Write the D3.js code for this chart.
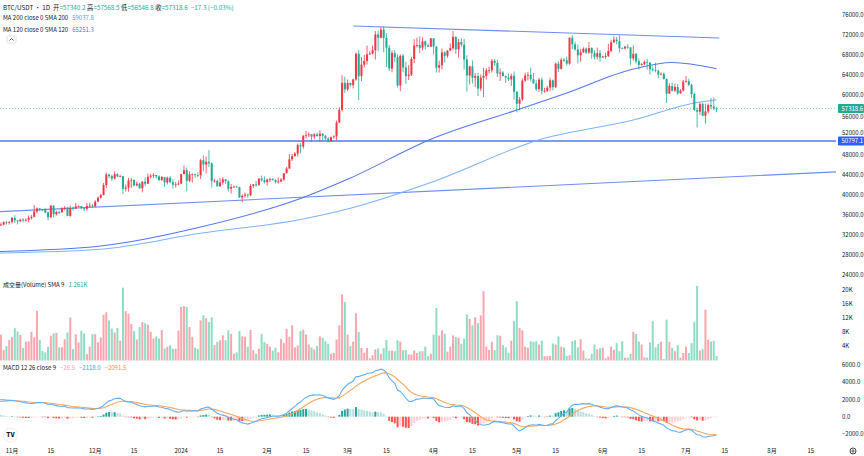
<!DOCTYPE html>
<html><head><meta charset="utf-8">
<script src="https://cdn.jsdelivr.net/npm/d3@7"></script>
<style>
body{margin:0;background:#fff;}
svg{display:block;font-family:"Noto Sans CJK SC","Noto Sans",Roboto,sans-serif;}
</style></head><body>
<svg id="c" width="864" height="456"></svg>
<script>
// ---------------- DATA ----------------
const startDate = "2023-10-27";
const firstOpen = 34150;
const closes = [
33900,34090,34540,34480,34640,
35420,34940,34730,35080,35040,35040,35420,35630,36700,37320,37140,37070,36490,35550,37880,36160,36600,36580,37390,37470,35830,37430,37290,37720,37800,37450,37250,37830,37860,37710,
38690,39470,39970,41990,44080,43770,43290,44170,43720,43790,41240,41490,42870,43020,41930,42270,41360,42660,42260,43650,43860,43990,43720,43010,43580,42510,43440,42580,42070,42140,42280,
44180,44950,42840,44150,44160,43970,43930,46950,46110,46630,46340,42780,42840,41730,42510,43140,42750,41260,41610,41680,41570,39510,39850,40080,39930,41810,42120,42030,43300,42940,42580,
43080,43190,42990,42580,42700,43090,44340,45290,47150,47770,48290,49960,49700,51840,51950,52140,51660,52130,51780,52260,51840,51300,50730,51570,51730,54480,57040,62430,61130,
62390,61990,63110,68250,63770,66070,66820,68120,68300,68960,72100,71450,73070,71390,69440,65300,68390,67550,61910,67850,65490,63780,64060,67210,69880,69990,69450,70740,69890,69650,71330,
69700,65460,65960,68510,67840,68900,69360,71620,69140,70590,70060,67100,63900,65730,63430,63800,61280,63470,63810,64940,64940,66840,66410,64280,64500,63770,63460,63120,63840,60640,
58250,59120,62890,63890,64030,63160,62310,61190,63070,60790,60820,61480,62940,61580,66270,65230,67050,66940,66280,71450,70140,69120,67930,68530,69270,68500,69390,68360,67640,68350,67490,
67710,67760,68800,70560,71080,70790,69350,69300,69650,69510,67320,68240,66750,66010,66190,66640,66490,65150,64960,64830,64100,64250,63180,60280,61800,60860,61610,60320,60890,62680,
62770,62020,60200,56990,56660,58230,55850,56700,57990,57700,57340.2,57318.6];
const highs = [
34250,34480,34750,34850,34720,
35600,35980,34950,35270,35380,35290,35890,35980,37970,37520,37400,37230,37440,36760,37980,37920,36860,36850,37550,37770,37650,37880,37660,38420,37890,37840,37580,38390,38430,38170,
38960,39690,40200,42400,44490,44300,44050,44700,44360,44040,43790,42100,43430,43420,43090,42700,42430,42750,43480,44280,44230,44390,43990,43940,43800,43600,43680,43800,43130,42600,42890,
44180,45880,45500,44730,44300,44250,44490,47250,47900,47700,48970,46500,43250,43080,43400,43580,43200,42930,42200,41870,41880,41680,40130,40500,40280,42200,42200,42840,43310,43880,43740,
43290,43480,43380,43120,43490,43400,44380,45600,48200,48200,48580,50300,50370,52000,52820,52580,52200,52380,52480,52950,52370,52000,51550,51700,51950,54900,57580,64000,63680,
63110,62480,63230,68500,69000,67600,67990,69900,68800,69880,72800,72900,73650,73780,72370,70000,68900,68950,68100,68100,68200,66650,65950,67600,71150,71500,71750,71550,70900,70300,71370,
71350,69700,66900,69290,68720,69000,70300,72800,71750,71200,71300,71250,67950,65850,66900,64370,64450,64100,65450,65380,65700,67200,67200,67070,65300,64800,63900,64300,64250,64700,
60780,59600,63300,64500,64600,65500,64400,62980,63400,63460,61450,61800,63450,63100,66450,66700,67450,67400,67700,71500,71950,70650,70100,69200,69550,69500,70600,69550,68900,69500,69000,
67850,68450,70250,71060,71750,71650,71950,69550,69850,70150,69550,69950,68400,67300,66400,66950,67250,66500,65730,66470,65050,64530,64520,63370,62350,62480,62300,62200,61200,63000,
63800,63280,62250,60500,57500,58480,58500,58240,58300,59450,59500,57568.5];
const lows = [
33400,33870,33930,34080,34080,
34300,34400,34100,34580,34530,34740,34520,35120,35530,36340,36750,36750,36340,34950,35360,35520,35880,36200,36400,36920,35750,35650,36890,37250,37610,37150,36750,36880,37590,37560,
37620,38650,39270,39960,41420,43360,42820,43080,43580,43580,40220,40680,40670,41430,41660,41730,41250,40520,41800,42190,43300,43400,43300,42750,42730,41620,42100,42320,41300,41520,41970,
42180,44150,40750,42620,42500,43420,43570,43180,44760,44300,45600,41500,42440,41720,41720,42050,42200,40680,40280,41450,41500,39440,38550,39480,39490,39820,41390,41630,41800,42680,42300,
41880,42580,42880,42270,42260,42580,42790,44330,45250,46800,47720,47700,48300,49260,51310,51600,50630,51160,51710,50650,50800,50900,50500,50580,51280,50900,54450,56700,60360,
60770,61650,61320,62850,59000,62800,65530,66100,68000,68100,67100,68800,71330,68550,65600,64750,64540,66550,61500,60770,64530,62260,63000,63800,66400,69500,68380,68900,69080,69560,69580,
68060,64500,64500,65060,66500,67450,68800,69040,68200,67500,69560,65100,60660,62100,62300,61600,59770,60800,59600,63100,64300,64500,65850,63600,62800,63780,62400,62800,61800,59100,
56550,56940,58800,62600,62900,62700,62250,60800,60600,60150,60480,60600,60760,60900,61350,64600,65100,66600,65850,66060,69160,68850,66300,66620,68450,68200,68250,67250,67100,67150,66650,
67390,67260,67600,68540,70380,70150,68500,69200,69130,69230,66050,66900,66300,65080,65880,66000,65100,64060,64690,64530,63400,63940,63100,58400,60240,60700,60600,60000,60270,60680,
62500,61780,59450,56770,53500,56020,55800,54260,56270,57140,56970,56546.8];
// volume in thousands
const volumesK = [
5.6,7.3,2.9,4.1,5.8,
6.5,9.1,8.2,7.2,3.5,5.3,5.4,8.1,6.5,14.0,5.8,2.7,2.3,3.9,7.0,7.6,7.8,3.7,3.7,6.0,7.9,12.1,3.2,7.4,5.1,8.4,7.6,1.8,3.9,7.4,
7.4,5.1,6.5,12.9,13.6,11.3,9.0,7.9,9.2,5.6,20.5,13.9,13.2,10.3,8.3,5.9,9.4,10.8,10.5,10.1,8.1,6.2,6.7,6.2,8.6,3.4,3.9,4.3,3.3,3.3,8.4,
15.1,15.3,15.1,9.4,6.7,3.6,3.3,11.3,12.7,11.9,10.8,12.2,4.3,5.2,5.7,7.1,5.7,8.5,7.5,1.9,2.3,8.3,6.8,6.7,3.9,8.6,2.9,1.9,3.3,
7.5,5.2,4.7,3.9,2.8,3.6,2.3,6.1,4.9,8.9,6.7,9.9,3.7,4.2,8.3,8.7,7.3,4.5,3.7,3.1,4.1,6.8,6.4,5.4,4.7,1.9,2.1,5.9,9.9,18.6,16.5,
7.3,4.1,5.3,13.3,8.0,3.5,2.2,3.5,0.6,1.5,3.1,3.4,1.9,3.5,5.8,2.8,2.8,2.6,5.7,5.3,2.9,2.9,1.7,1.7,2.8,2.1,2.6,2.6,3.9,1.2,1.9,
7.3,14.8,7.0,8.5,7.5,2.5,3.9,7.1,6.6,6.4,4.7,6.2,13.0,11.7,9.9,12.2,10.5,12.7,19.5,3.9,3.0,5.3,2.9,7.1,7.0,4.3,3.7,2.2,5.6,11.1,
16.7,9.2,8.5,3.9,3.6,5.4,5.3,5.4,4.5,5.6,1.2,1.2,1.3,4.8,4.5,6.8,3.9,3.7,1.3,1.5,5.4,5.7,3.7,6.0,2.8,0.6,0.5,1.9,4.5,3.2,3.4,
3.6,0.6,1.1,3.9,3.0,4.9,2.6,5.4,0.8,0.8,1.9,8.1,7.5,5.3,4.5,0.9,0.8,5.1,11.1,3.7,4.7,5.3,0.4,11.5,5.3,3.6,2.6,4.3,0.8,2.1,
3.9,2.1,4.9,10.9,21.0,2.8,3.2,14.3,5.9,5.3,5.6,1.261];

// moving-average lines (date, value)
const ma120Pts = [["2023-10-27",28700],["2023-12-03",29800],["2024-01-08",33600],["2024-02-13",39300],["2024-03-02",43400],["2024-03-31",51150],["2024-05-01",57000],["2024-05-19",60400],["2024-06-12",65200],["2024-06-26",66500],["2024-07-12",65251.3]];
const ma200Pts = [["2023-10-27",28400],["2023-12-03",29150],["2024-01-08",32350],["2024-02-13",35100],["2024-03-02",37350],["2024-03-31",42500],["2024-05-10",51200],["2024-06-12",55000],["2024-07-04",58400],["2024-07-12",59037.8]];
// drawn trend lines
const trendDown = [["2024-03-03",73800],["2024-07-13",71400]];
const trendUp = [["2023-11-01",36780],["2024-08-01",44020]];
const hLineLevel = 50797.1;
const macdSeed = {ema12: 32300, ema26: 30300, signal: 1650};

const priceTicks = [24000,28000,32000,36000,40000,44000,48000,52000,56000,60000,64000,68000,72000,76000];
const volTicks = [4,8,12,16,20];
const macdTicks = [-2000,0,2000,4000,6000];
const monthLabels = ["11月","12月","2024","2月","3月","4月","5月","6月","7月","8月"];
const monthStarts = ["2023-11-01","2023-12-01","2024-01-01","2024-02-01","2024-03-01","2024-04-01","2024-05-01","2024-06-01","2024-07-01","2024-08-01"];

const legendOHLC = [["开","57340.2"],["高","57568.5"],["低","56546.8"],["收","57318.6"]];
const legendChange = "−17.3 (−0.03%)";
const legendMA200 = ["MA 200 close 0 SMA 200","59037.8"];
const legendMA120 = ["MA 120 close 0 SMA 120","65251.3"];
const legendVol = ["成交量(Volume) SMA 9","1.261K"];
const legendMACD = ["MACD 12 26 close 9","−26.5","−2118.0","−2091.5"];

// ---------------- STYLE ----------------
const UP="#f23645", DOWN="#22ab94";
const VUP="#f7a6ae", VDOWN="#8fdcc4";
const TXT="#131722";

const svg = d3.select("#c");
const plotR = 836;
const parse = d3.utcParse("%Y-%m-%d");
const t0 = parse(startDate);
const data = closes.map((c,i)=>{
  const o = i===0 ? firstOpen : closes[i-1];
  return {date:d3.utcDay.offset(t0,i), o, c, h:Math.max(highs[i],o,c), l:Math.min(lows[i],o,c), v:volumesK[i]};
});
const x = d3.scaleUtc().domain([parse("2023-11-01"), parse("2024-08-01")]).range([12,772]);
const yP = d3.scaleLinear().domain([28000,76000]).range([255,15]);
const yV = d3.scaleLinear().domain([0,20]).range([360.5,289.5]);
const yM = d3.scaleLinear().domain([-2000,6000]).range([434,364.8]);

const defs = svg.append("defs");
[["cm",0,0,plotR,277],["cv",0,277,plotR,84],["cd",0,361,plotR,79]].forEach(([id,a,b,w,h])=>{
  defs.append("clipPath").attr("id",id).append("rect").attr("x",a).attr("y",b).attr("width",w).attr("height",h);
});

svg.append("rect").attr("width",864).attr("height",456).attr("fill","#fff");

// ---- main pane ----
const gm = svg.append("g").attr("clip-path","url(#cm)");
gm.append("line").attr("x1",0).attr("x2",plotR).attr("y1",yP(hLineLevel)).attr("y2",yP(hLineLevel))
  .attr("stroke","#7d9bf5").attr("stroke-width",2);
{
  const [a,b] = trendUp.map(([d,v])=>[x(parse(d)),yP(v)]);
  const k=(b[1]-a[1])/(b[0]-a[0]);
  gm.append("line").attr("x1",0).attr("y1",a[1]+k*(0-a[0])).attr("x2",plotR).attr("y2",a[1]+k*(plotR-a[0]))
    .attr("stroke","#6d8ef2").attr("stroke-width",1.1);
}
{
  const [a,b] = trendDown.map(([d,v])=>[x(parse(d)),yP(v)]);
  gm.append("line").attr("x1",a[0]).attr("y1",a[1]).attr("x2",b[0]).attr("y2",b[1])
    .attr("stroke","#6d8ef2").attr("stroke-width",1.1);
}
const maLine = d3.line().x(d=>x(parse(d[0]))).y(d=>yP(d[1])).curve(d3.curveMonotoneX);
gm.append("path").attr("d",maLine(ma200Pts)).attr("fill","none").attr("stroke","#7db4f5").attr("stroke-width",1.1);
gm.append("path").attr("d",maLine(ma120Pts)).attr("fill","none").attr("stroke","#5577ee").attr("stroke-width",1.1);
const lastC = closes[closes.length-1];
gm.append("line").attr("x1",0).attr("x2",plotR).attr("y1",yP(lastC)).attr("y2",yP(lastC))
  .attr("stroke",DOWN).attr("stroke-width",0.8).attr("stroke-dasharray","1,2").attr("opacity",0.8);
const cg = gm.append("g");
cg.selectAll("line.w").data(data).join("line").attr("class","w")
  .attr("x1",d=>x(d.date)).attr("x2",d=>x(d.date)).attr("y1",d=>yP(d.h)).attr("y2",d=>yP(d.l))
  .attr("stroke",d=>d.c>=d.o?UP:DOWN).attr("stroke-width",0.8);
cg.selectAll("rect").data(data).join("rect")
  .attr("x",d=>x(d.date)-1).attr("width",2)
  .attr("y",d=>yP(Math.max(d.o,d.c))).attr("height",d=>Math.max(0.8,Math.abs(yP(d.o)-yP(d.c))))
  .attr("fill",d=>d.c>=d.o?UP:DOWN);

// ---- volume pane ----
const gv = svg.append("g").attr("clip-path","url(#cv)");
gv.selectAll("rect").data(data).join("rect")
  .attr("x",d=>x(d.date)-1).attr("width",2)
  .attr("y",d=>yV(d.v)).attr("height",d=>yV(0)-yV(d.v))
  .attr("fill",d=>d.c>=d.o?VUP:VDOWN);

// ---- MACD pane ----
let e12=macdSeed.ema12, e26=macdSeed.ema26, sig=macdSeed.signal;
const macd = data.map(d=>{
  e12 += (2/13)*(d.c-e12); e26 += (2/27)*(d.c-e26);
  const m = e12-e26; sig += (2/10)*(m-sig);
  return {date:d.date, m, s:sig, h:m-sig};
});
const gd = svg.append("g").attr("clip-path","url(#cd)");
gd.selectAll("rect").data(macd).join("rect")
  .attr("x",d=>x(d.date)-1).attr("width",2)
  .attr("y",d=>Math.min(yM(0),yM(d.h))).attr("height",d=>Math.max(0.5,Math.abs(yM(d.h)-yM(0))))
  .attr("fill",(d,i)=>{
    const prev = i>0?macd[i-1].h:d.h;
    if(d.h>=0) return d.h>=prev?"#26a69a":"#b2dfdb";
    return d.h<prev?"#ff5252":"#ffcdd2";
  });
gd.append("path").attr("d",d3.line().x(d=>x(d.date)).y(d=>yM(d.s))(macd)).attr("fill","none").attr("stroke","#f9a65c").attr("stroke-width",1.1);
gd.append("path").attr("d",d3.line().x(d=>x(d.date)).y(d=>yM(d.m))(macd)).attr("fill","none").attr("stroke","#64aef5").attr("stroke-width",1.1);

// ---- right axes ----
const tagVals = [closes[closes.length-1], hLineLevel];
function nudge(y){
  for(const tv of tagVals){
    const ty=yP(tv), d=y-ty;
    if(Math.abs(d)<8.6) return ty + (d>=0?8.6:-8.6);
  }
  return y;
}
const ax = svg.append("g").attr("font-size",6).attr("fill",TXT);
ax.selectAll("text.p").data(priceTicks).join("text").attr("class","p")
  .attr("x",842).attr("y",d=>nudge(yP(d))).attr("dy","0.35em").text(d=>d3.format(".1f")(d));
ax.selectAll("text.v").data(volTicks).join("text").attr("class","v")
  .attr("x",842).attr("y",d=>yV(d)).attr("dy","0.35em").text(d=>d+"K");
ax.selectAll("text.m").data(macdTicks).join("text").attr("class","m")
  .attr("x",842).attr("y",d=>yM(d)).attr("dy","0.35em").text(d=>(d<0?"−":"")+d3.format(".1f")(Math.abs(d)));
function tag(v,color){
  const y=yP(v);
  svg.append("rect").attr("x",838).attr("y",y-4.5).attr("width",26).attr("height",9).attr("fill",color).attr("rx",1);
  svg.append("text").attr("x",841.5).attr("y",y).attr("dy","0.35em").attr("font-size",6).attr("fill","#fff").text(d3.format(".1f")(v));
}
tag(lastC,"#22ab94");
tag(hLineLevel,"#2962ff");

// ---- time axis ----
const tickDates=[], tickText=[];
monthStarts.forEach((m,i)=>{
  const d=parse(m); tickDates.push(d); tickText.push(monthLabels[i]);
  const d15=d3.utcDay.offset(d,14); tickDates.push(d15); tickText.push("15");
});
svg.append("g").attr("font-size",6).attr("fill",TXT).selectAll("text").data(tickDates).join("text")
  .attr("x",d=>x(d)).attr("y",453).attr("text-anchor","middle").text((d,i)=>tickText[i]);

// ---- legends ----
const lg = svg.append("g").attr("font-size",6.3);
{
  const t = lg.append("text").attr("x",3).attr("y",9.5).attr("fill",TXT);
  t.append("tspan").text("BTC/USDT · 1D ");
  legendOHLC.forEach(([k,v])=>{
    t.append("tspan").attr("fill",TXT).attr("dx",1.5).text(k);
    t.append("tspan").attr("fill",DOWN).text("="+v);
  });
  t.append("tspan").attr("fill",DOWN).attr("dx",3).text(legendChange);
}
function legLine(y, parts, colors){
  const t = lg.append("text").attr("x",3).attr("y",y).attr("font-size",6).attr("fill",TXT);
  parts.forEach((p,i)=>t.append("tspan").attr("fill",colors[i]).attr("dx",i?4:0).text(p));
}
legLine(19.5, legendMA200, [TXT,"#4a9df0"]);
legLine(31.5, legendMA120, [TXT,"#4f75ee"]);
legLine(286.5, legendVol, [TXT,DOWN]);
legLine(370, legendMACD, [TXT,"#f8a5ad","#3d9cf0","#f7913a"]);
svg.append("rect").attr("x",7).attr("y",36).attr("width",9).attr("height",7).attr("rx",1.5).attr("fill","#fff").attr("stroke","#d1d4dc").attr("stroke-width",0.7);
svg.append("path").attr("d","M9.5,40.5 L11.5,38.5 L13.5,40.5").attr("fill","none").attr("stroke",TXT).attr("stroke-width",0.7);

svg.append("circle").attr("cx",10.5).attr("cy",435).attr("r",7).attr("fill","#fff").attr("stroke","#e6e8ee").attr("stroke-width",0.8);
svg.append("text").attr("x",10.5).attr("y",435).attr("dy","0.35em").attr("text-anchor","middle").attr("font-size",6.5).attr("font-weight",900).attr("fill","#131722").text("TV");
const gear = svg.append("g").attr("transform","translate(853,451)");
gear.append("circle").attr("r",3).attr("fill","none").attr("stroke","#131722").attr("stroke-width",0.8);
gear.append("circle").attr("r",1.1).attr("fill","none").attr("stroke","#131722").attr("stroke-width",0.7);
</script>
</body></html>
